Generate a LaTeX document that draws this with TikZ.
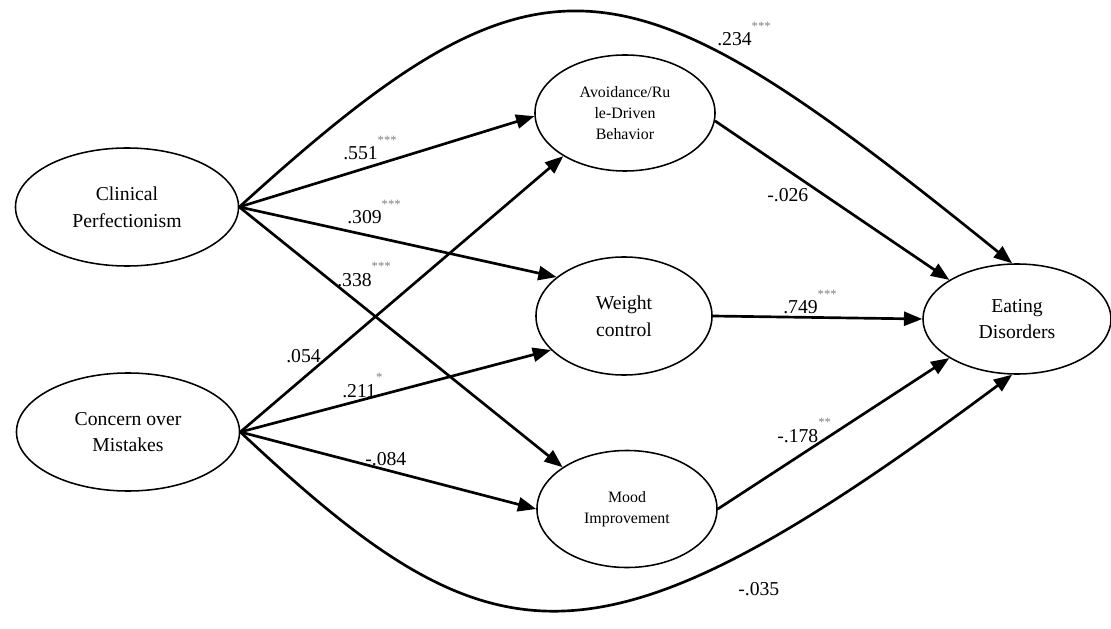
\documentclass[tikz,border=0pt]{standalone}
\usepackage{fontspec}
\setmainfont{Liberation Serif}
\usepackage{xcolor}
\usetikzlibrary{arrows.meta,shapes.geometric}
\newcommand{\stars}[1]{\raisebox{11pt}{\fontsize{9}{9}\selectfont\color{gray}#1}}

\begin{document}
\begin{tikzpicture}[
    x=0.025cm, y=-0.025cm,
    var/.style={ellipse,draw,line width=1.1pt,inner sep=0pt,align=center,font=\fontsize{14}{19}\selectfont},
    smallvar/.style={var,font=\fontsize{11.3}{15}\selectfont},
    effect/.style={line width=1.9pt,-{Triangle[length=13pt,width=10pt]}},
    coef/.style={anchor=base west,inner sep=0pt,font=\fontsize{14}{14}\selectfont}
]
	\useasboundingbox (0,0) rectangle (1111,629);
	\node[var,minimum width=5.575cm,minimum height=2.95cm] (cp) at (127,207) {Clinical\\Perfectionism};
	\node[var,minimum width=5.575cm,minimum height=2.95cm] (com) at (128,432) {Concern over\\Mistakes};
	\node[smallvar,minimum width=4.5cm,minimum height=2.9cm] (av) at (625,113) {Avoidance/Ru\\le-Driven\\Behavior};
	\node[var,minimum width=4.4cm,minimum height=2.95cm] (wc) at (624,316) {Weight\\control};
	\node[smallvar,minimum width=4.5cm,minimum height=2.925cm] (mi) at (627,509) {Mood\\Improvement};
	\node[var,minimum width=4.7cm,minimum height=2.75cm] (ed) at (1017,319) {Eating\\Disorders};

	\draw[effect] (cp.east) -- (av.182);
	\draw[effect] (cp.east) -- (wc.150);
	\draw[effect] (cp.east) -- (mi.147);
	\draw[effect] (com.east) -- (av.215);
	\draw[effect] (com.east) -- (wc.205);
	\draw[effect] (com.east) -- (mi.west);
	\draw[effect] (av.-5) -- (ed.150);
	\draw[effect] (wc.east) -- (ed.west);
	\draw[effect] (mi.east) -- (ed.210);
	\draw[effect] (cp.east) .. controls (546,-72) and (624,-50) .. (ed.95);
	\draw[effect] (com.east) .. controls (495,671) and (594,686) .. (ed.265);

	\node[coef] (c1) at (343,160) {.551\stars{***}};
	\node[coef] (c2) at (347,224) {.309\stars{***}};
	\node[coef] (c3) at (337,286) {.338\stars{***}};
	\node[coef] (c4) at (286,362) {.054};
	\node[coef] (c5) at (342,397) {.211\stars{*}};
	\node[coef] (c6) at (365,465) {-.084};
	\node[coef] (c7) at (767,202) {-.026};
	\node[coef] (c8) at (783,314) {.749\stars{***}};
	\node[coef] (c9) at (777,442) {-.178\stars{**}};
	\node[coef] (c10) at (717,46) {.234\stars{***}};
	\node[coef] (c11) at (738,595) {-.035};
\end{tikzpicture}
\end{document}
